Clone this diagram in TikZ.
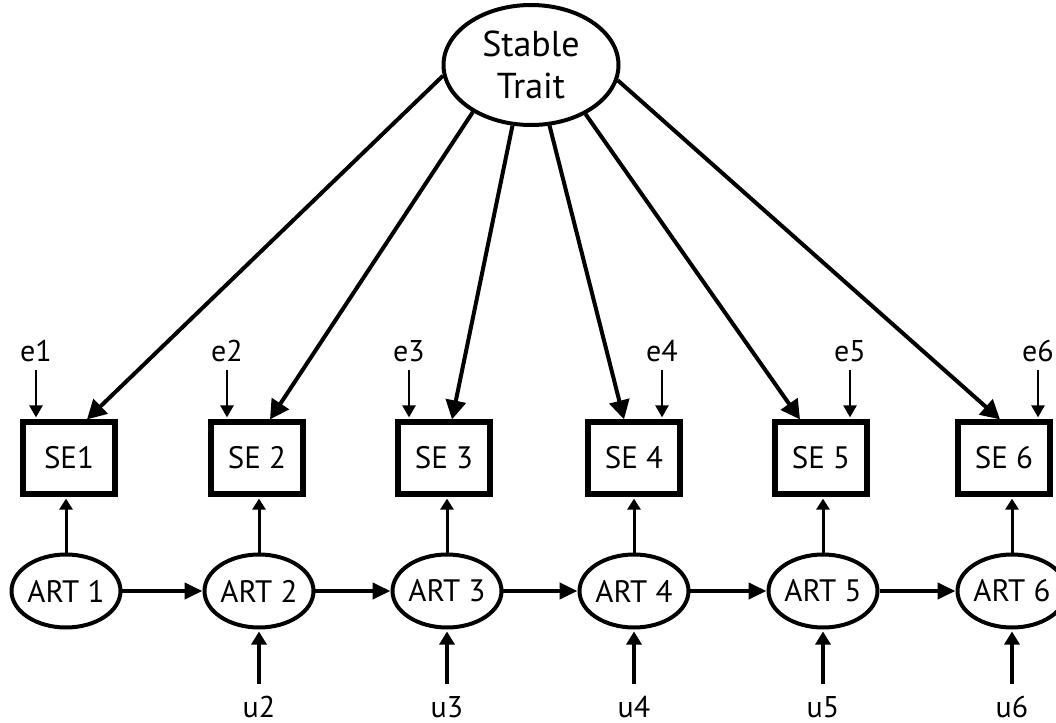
\documentclass[tikz,border=0pt]{standalone}
\usepackage{fontspec}
\setsansfont{PT Sans}
\usetikzlibrary{shapes.geometric,arrows.meta}

\begin{document}
\begin{tikzpicture}[x=0.5pt, y=-0.5pt,
	every node/.style={font=\sffamily\fontsize{15.5}{18}\selectfont},
	latent/.style={ellipse, draw, line width=2pt, inner sep=0pt, minimum width=53.5pt, minimum height=36.5pt},
	observed/.style={rectangle, draw, line width=2.6pt, inner sep=0pt, minimum width=46pt, minimum height=36pt},
	errlabel/.style={inner sep=0pt, outer sep=4pt, font=\sffamily\fontsize{15}{17}\selectfont},
	loading/.style={line width=2pt, -{Triangle[length=9.5pt, width=10pt]}},
	autoreg/.style={line width=2pt, -{Triangle[length=9pt, width=8pt]}},
	upward/.style={line width=1.5pt, shorten >=1pt, -{Triangle[length=5.5pt, width=6.5pt]}},
	errarrow/.style={line width=1.2pt, shorten >=1pt, -{Triangle[length=6pt, width=6.5pt]}}]
	\useasboundingbox (0,0) rectangle (1056,723);
	% trait factor
	\node[latent, minimum width=87.5pt, minimum height=60pt, align=center, font=\sffamily\fontsize{18}{21}\selectfont] (trait) at (531,65) {Stable\\Trait};
	% measures and autoregressive trait states
	\foreach \i/\xs/\xa/\t in {1/69/66/SE1, 2/257/259/SE 2, 3/444/447/SE 3, 4/634/634/SE 4, 5/821/823/SE 5, 6/1004/1012/SE 6} {
		\node[observed] (se\i) at (\xs,458) {\t};
		\node[latent] (art\i) at (\xa,591) {ART \i};
		\draw[upward] (art\i) -- (art\i |- se\i.south);
	}
	\foreach \i [count=\j from 2] in {1,...,5} {\draw[autoreg] (art\i) -- (art\j);}
	% loadings of the stable trait
	\foreach \i/\a/\dx in {1/187/9pt, 2/219/6.5pt, 3/253/4pt, 4/287/-5pt, 5/318/-10.5pt, 6/350/-2pt} {
		\draw[loading] (trait.\a) -- ([xshift=\dx]se\i.north);
	}
	% measurement errors
	\foreach \i/\ex in {1/36, 2/227, 3/409, 4/662, 5/850, 6/1038} {
		\node[errlabel] (e\i) at (\ex,351) {e\i};
		\draw[errarrow] (e\i) -- (e\i |- se\i.north);
	}
	% innovations
	\foreach \i/\ux in {2/259, 3/447, 4/634, 5/823, 6/1012} {
		\node[errlabel, outer sep=6pt] (u\i) at (\ux,707) {u\i};
		\draw[upward, line width=1.6pt, -{Triangle[length=6.5pt, width=7.5pt]}] (u\i) -- (art\i);
	}
\end{tikzpicture}
\end{document}
